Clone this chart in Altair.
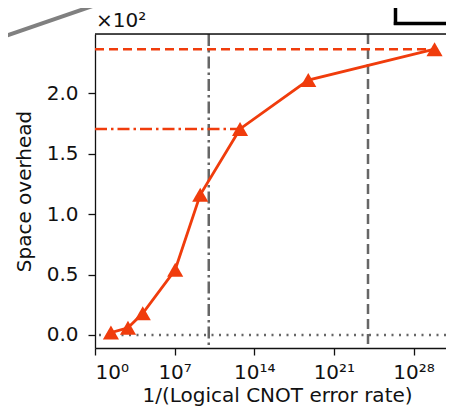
import altair as alt
import pandas as pd

# data (x stored as log10 of 1/(logical CNOT error rate))
exp_x = [1.4, 2.9, 4.2, 7.05, 9.25, 12.75, 18.75, 29.85]
overhead = [2, 6, 18, 54, 116, 170.5, 211, 236.5]
x_ticks = [0, 7, 14, 21, 28]
y_ticks = [0, 50, 100, 150, 200]
vline_dashdot = [10]
vline_dashed = [24]
hline_dashed = [236.5]
hline_dashed_end = [29.85]
hline_dashdot = [170.5]
hline_dashdot_end = [12.75]
baseline_y = [0]

RED = "#f03c0c"
GRAY = "#666666"
FONT = "DejaVu Sans"

PW, PH = 351, 314
xs = alt.Scale(domain=[0, PW / 11.375], nice=False, zero=False)
ys = alt.Scale(domain=[-10.76, 249.1], nice=False, zero=False)

df = pd.DataFrame({"x": exp_x, "y": overhead})

x_axis = alt.Axis(
    values=x_ticks,
    labelExpr="datum.value == 0 ? '10⁰' : datum.value == 7 ? '10⁷' : datum.value == 14 ? '10¹⁴' : datum.value == 21 ? '10²¹' : '10²⁸'",
    tickSize=7, tickWidth=1.3, tickColor="#111", domainColor="#111", domainWidth=1.3,
    labelFontSize=20, labelFont=FONT, labelColor="#111", labelPadding=7,
    title="1/(Logical CNOT error rate)", titleFontSize=20, titleFont=FONT,
    titleFontWeight="normal", titleColor="#111", titleY=53, titleX=182,
    titleBaseline="alphabetic", titleAlign="center",
    grid=False,
)
y_axis = alt.Axis(
    values=y_ticks,
    labelExpr="format(datum.value/100, '.1f')",
    tickSize=7, tickWidth=1.3, tickColor="#111", domainColor="#111", domainWidth=1.3,
    labelFontSize=20, labelFont=FONT, labelColor="#111", labelPadding=10,
    title="Space overhead", titleFontSize=20, titleFont=FONT,
    titleFontWeight="normal", titleColor="#111", titleX=-65, titleBaseline="alphabetic",
    grid=False,
)

base_line = alt.Chart(pd.DataFrame({"y": baseline_y})).mark_rule(
    color=GRAY, strokeWidth=2.5, strokeDash=[2, 5.5]
).encode(y=alt.Y("y:Q", scale=ys, axis=y_axis))

vdd = alt.Chart(pd.DataFrame({"x": vline_dashdot})).mark_rule(
    color=GRAY, strokeWidth=2.5, strokeDash=[12, 4, 2.5, 4]
).encode(x=alt.X("x:Q", scale=xs, axis=x_axis))

vd = alt.Chart(pd.DataFrame({"x": vline_dashed})).mark_rule(
    color=GRAY, strokeWidth=2.5, strokeDash=[10, 5]
).encode(x=alt.X("x:Q", scale=xs))

hd = alt.Chart(pd.DataFrame({"x": [0], "x2": hline_dashed_end, "y": hline_dashed})).mark_rule(
    color=RED, strokeWidth=2.5, strokeDash=[9, 5]
).encode(x=alt.X("x:Q", scale=xs), x2="x2:Q", y=alt.Y("y:Q", scale=ys))

hdd = alt.Chart(pd.DataFrame({"x": [0], "x2": hline_dashdot_end, "y": hline_dashdot})).mark_rule(
    color=RED, strokeWidth=2.5, strokeDash=[12, 4, 2.5, 4]
).encode(x=alt.X("x:Q", scale=xs), x2="x2:Q", y=alt.Y("y:Q", scale=ys))

line = alt.Chart(df).mark_line(color=RED, strokeWidth=2.8).encode(
    x=alt.X("x:Q", scale=xs), y=alt.Y("y:Q", scale=ys)
)
pts = alt.Chart(df).mark_point(
    shape="triangle-up", size=260, filled=True, color=RED, opacity=1
).encode(x=alt.X("x:Q", scale=xs), y=alt.Y("y:Q", scale=ys))

# top spine
top_spine = alt.Chart(pd.DataFrame({"y": [249.1]})).mark_rule(
    color="#111", strokeWidth=1.3
).encode(y=alt.Y("y:Q", scale=ys))

# axis offset label
offset_text = alt.Chart(pd.DataFrame({"t": ["×10²"]})).mark_text(
    font=FONT, fontSize=20, color="#111", align="left", baseline="alphabetic"
).encode(text="t:N", x=alt.value(1), y=alt.value(-7))

# fragments of neighbouring figure panels
diag = alt.Chart(pd.DataFrame({"a": [0]})).mark_rule(color="#808080", strokeWidth=4).encode(
    x=alt.value(-95), y=alt.value(4), x2=alt.value(15), y2=alt.value(-34)
)
box_left = alt.Chart(pd.DataFrame({"a": [0]})).mark_rule(color="#000", strokeWidth=3.5).encode(
    x=alt.value(300.5), y=alt.value(-40), y2=alt.value(-9)
)
box_bottom = alt.Chart(pd.DataFrame({"a": [0]})).mark_rule(color="#000", strokeWidth=3.5).encode(
    x=alt.value(298.8), x2=alt.value(400), y=alt.value(-10.5)
)

chart = alt.layer(
    base_line, vdd, vd, hd, hdd, line, pts, top_spine, offset_text, diag, box_left, box_bottom
).properties(
    width=PW, height=PH,
    autosize=alt.AutoSizeParams(type="none"),
    padding={"left": 87, "top": 26, "right": 0, "bottom": 58},
).configure_view(stroke=None).configure(background="white")

chart.save("out.html", embed_options={"renderer": "svg", "actions": False})
